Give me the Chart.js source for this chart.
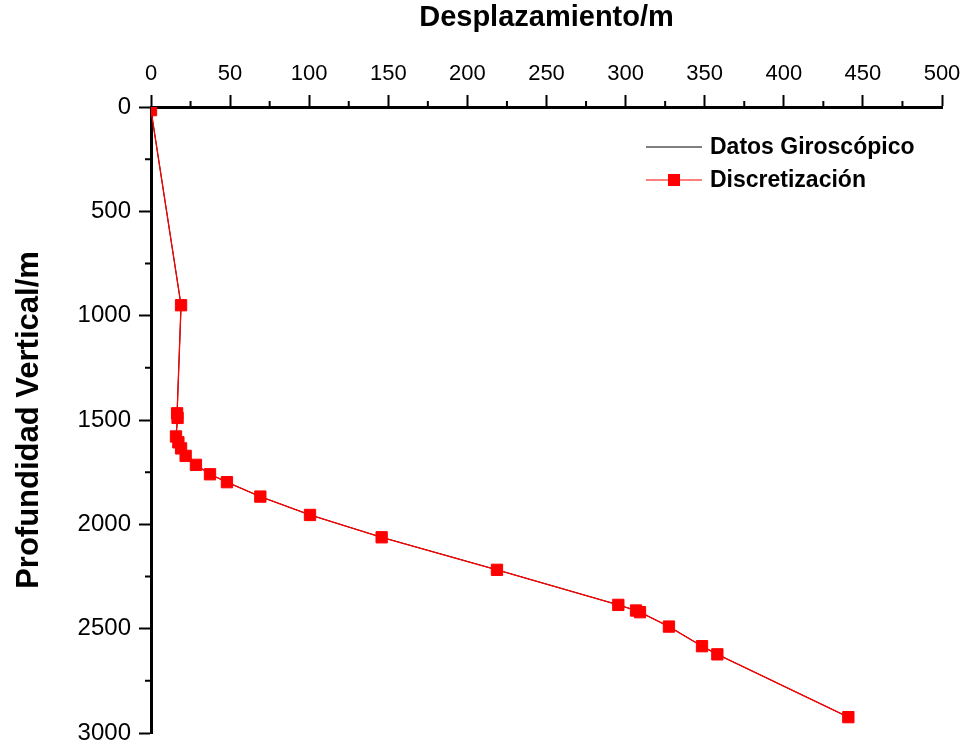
<!DOCTYPE html>
<html>
<head>
<meta charset="utf-8">
<title>Desplazamiento vs Profundidad</title>
<script src="https://cdn.jsdelivr.net/npm/chart.js@4.4.0/dist/chart.umd.min.js"></script>
<style>
  body { margin: 0; background: #fff; }
  canvas { display: block; }
</style>
</head>
<body>
<canvas id="grafica" width="964" height="742"></canvas>
<script>
// datos
const desplazamiento = [0, 19, 16.5, 16.8, 15.8, 17.3, 19, 21.9, 28.4, 37.3, 48, 69.1, 100.5, 145.8, 218.7, 295.4, 306.6, 309.1, 327.4, 348.3, 358, 440.8];
const profundidad = [15, 950, 1468, 1490, 1579, 1607, 1636, 1672, 1715, 1760, 1798, 1867, 1955, 2062, 2218, 2386, 2413, 2421, 2490, 2584, 2623, 2924];
const ticksX = [0, 50, 100, 150, 200, 250, 300, 350, 400, 450, 500];
const ticksY = [0, 500, 1000, 1500, 2000, 2500, 3000];
const series = ["Datos Giroscópico", "Discretización"];

const FONT = "'Liberation Sans', Arial, Helvetica, sans-serif";
const puntos = desplazamiento.map((x, i) => ({ x: x, y: profundidad[i] }));

// marcas menores entre las marcas mayores
const minorTicks = {
  id: "minorTicks",
  afterDraw(chart) {
    const ctx = chart.ctx;
    const area = chart.chartArea;
    const sx = chart.scales.x;
    const sy = chart.scales.y;
    ctx.save();
    ctx.strokeStyle = "#000";
    ctx.lineWidth = 2;
    ctx.beginPath();
    for (let i = 0; i < ticksX.length - 1; i++) {
      const px = sx.getPixelForValue((ticksX[i] + ticksX[i + 1]) / 2);
      ctx.moveTo(px, area.top);
      ctx.lineTo(px, area.top - 6);
    }
    for (let i = 0; i < ticksY.length - 1; i++) {
      const py = sy.getPixelForValue((ticksY[i] + ticksY[i + 1]) / 2);
      ctx.moveTo(area.left, py);
      ctx.lineTo(area.left - 6, py);
    }
    ctx.stroke();
    ctx.restore();
  }
};

// leyenda dentro del area de la grafica
const leyenda = {
  id: "leyenda",
  afterDraw(chart) {
    const ctx = chart.ctx;
    const area = chart.chartArea;
    const x0 = area.right - 296;
    const x1 = x0 + 56;
    const rows = [area.top + 40, area.top + 73];
    ctx.save();
    ctx.font = "bold 23px " + FONT;
    ctx.textBaseline = "middle";
    chart.data.datasets.forEach((ds, i) => {
      const y = rows[i];
      ctx.strokeStyle = ds.borderColor;
      ctx.lineWidth = 1.2;
      ctx.beginPath();
      if (ds.pointRadius > 0) {
        ctx.moveTo(x0, y);
        ctx.lineTo(x0 + 22, y);
        ctx.moveTo(x0 + 34, y);
        ctx.lineTo(x1, y);
        ctx.stroke();
        ctx.fillStyle = ds.pointBackgroundColor;
        ctx.fillRect(x0 + 22, y - 6, 12, 12);
      } else {
        ctx.moveTo(x0, y);
        ctx.lineTo(x1, y);
        ctx.stroke();
      }
      ctx.fillStyle = "#000";
      ctx.fillText(ds.label, x1 + 8, y + 1);
    });
    ctx.restore();
  }
};

const ctx = document.getElementById("grafica").getContext("2d");
const chart = new Chart(ctx, {
  type: "scatter",
  data: {
    datasets: [
      {
        label: series[0],
        data: puntos,
        showLine: true,
        borderColor: "#000",
        borderWidth: 1,
        pointRadius: 0,
        order: 1,
        clip: 0
      },
      {
        label: series[1],
        data: puntos,
        showLine: true,
        borderColor: "#ff0000",
        borderWidth: 1.3,
        pointStyle: "rect",
        pointRadius: 8,
        pointBackgroundColor: "#ff0000",
        pointBorderColor: "#ff0000",
        pointBorderWidth: 1,
        order: 0,
        clip: 0
      }
    ]
  },
  options: {
    responsive: false,
    animation: false,
    layout: {
      autoPadding: false,
      padding: { left: 7, top: 1, right: 22, bottom: 9 }
    },
    plugins: {
      legend: { display: false },
      tooltip: { enabled: false }
    },
    scales: {
      x: {
        type: "linear",
        position: "top",
        min: 0,
        max: 500,
        afterBuildTicks: (scale) => { scale.ticks = ticksX.map(v => ({ value: v })); },
        afterFit: (scale) => {
          scale.height = 106;
          scale.paddingLeft = 0;
          scale.paddingRight = 0;
        },
        grid: {
          drawOnChartArea: false,
          drawTicks: true,
          tickLength: 12,
          tickWidth: 2,
          tickColor: "#000"
        },
        border: { display: true, color: "#000", width: 3 },
        ticks: {
          color: "#000",
          padding: 8,
          maxRotation: 0,
          callback: (v) => String(v),
          font: { family: FONT, size: 22 }
        },
        title: {
          display: true,
          text: "Desplazamiento/m",
          color: "#000",
          padding: { top: 0, bottom: 4 },
          font: { family: FONT, size: 29, weight: "bold" }
        }
      },
      y: {
        type: "linear",
        reverse: true,
        min: 0,
        max: 3000,
        afterBuildTicks: (scale) => { scale.ticks = ticksY.map(v => ({ value: v })); },
        afterFit: (scale) => {
          scale.width = 144;
          scale.paddingTop = 0;
          scale.paddingBottom = 0;
        },
        grid: {
          drawOnChartArea: false,
          drawTicks: true,
          tickLength: 12,
          tickWidth: 2,
          tickColor: "#000"
        },
        border: { display: true, color: "#000", width: 3 },
        ticks: {
          color: "#000",
          padding: 8,
          callback: (v) => String(v),
          font: { family: FONT, size: 24 }
        },
        title: {
          display: true,
          text: "Profundidad Vertical/m",
          color: "#000",
          padding: { top: 4, bottom: 4 },
          font: { family: FONT, size: 31, weight: "bold" }
        }
      }
    }
  },
  plugins: [minorTicks, leyenda]
});
</script>
</body>
</html>
